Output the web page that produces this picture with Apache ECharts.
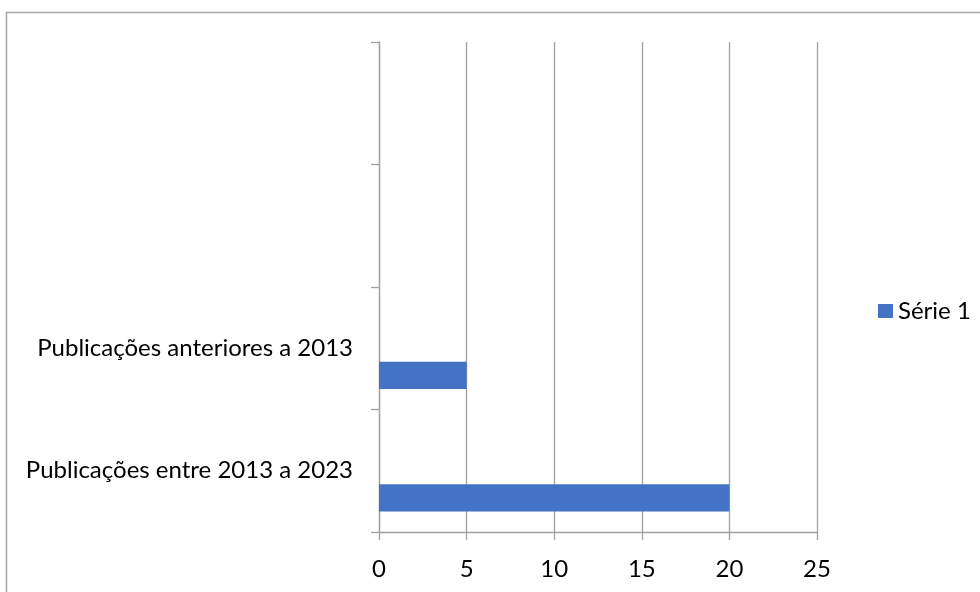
<!DOCTYPE html>
<html>
<head>
<meta charset="utf-8">
<style>
  html, body { margin: 0; padding: 0; background: #fff; }
  #chart { width: 980px; height: 592px; }
</style>
<script src="https://cdn.jsdelivr.net/npm/echarts@6/dist/echarts.min.js"></script>
</head>
<body>
<div id="chart"></div>
<script>
const categories = ["Publicações entre 2013 a 2023", "Publicações anteriores a 2013", "", ""];
const serie1 = [20, 5, null, null];
const serie2 = [null, null, null, null];
const serie3 = [null, null, null, null];
const xTicks = { min: 0, max: 25, interval: 5 };

const FONT = "Lato";
const FS = 24;
const chart = echarts.init(document.getElementById('chart'), null, { renderer: 'canvas' });
const axisGray = '#a0a0a0';

chart.setOption({
  animation: false,
  backgroundColor: '#ffffff',
  textStyle: { fontFamily: FONT },
  graphic: [{
    type: 'rect',
    shape: { x: 6.5, y: 12.5, width: 1000, height: 700 },
    style: { fill: 'none', stroke: '#a6a6a6', lineWidth: 1.5 },
    silent: true
  }],
  grid: { left: 379, right: 163, top: 42, bottom: 60, containLabel: false, outerBoundsMode: 'none' },
  legend: {
    data: ['Série 1'],
    left: 873,
    top: 294,
    icon: 'rect',
    itemWidth: 15,
    itemHeight: 14,
    textStyle: { fontFamily: FONT, fontSize: FS, color: '#000', lineHeight: 24 }
  },
  xAxis: {
    type: 'value',
    min: xTicks.min,
    max: xTicks.max,
    interval: xTicks.interval,
    axisLine: { show: true, lineStyle: { color: axisGray, width: 1.3 } },
    axisTick: { show: true, length: 8, lineStyle: { color: axisGray, width: 1.3 } },
    splitLine: { show: true, lineStyle: { color: axisGray, width: 1.3 } },
    axisLabel: { fontFamily: FONT, fontSize: FS, color: '#000', margin: 25 }
  },
  yAxis: {
    type: 'category',
    data: categories,
    axisLine: { show: true, lineStyle: { color: axisGray, width: 1.3 } },
    axisTick: { show: true, length: 8, lineStyle: { color: axisGray, width: 1.3 } },
    splitLine: { show: false },
    axisLabel: { fontFamily: FONT, fontSize: FS, color: '#000', margin: 26 }
  },
  series: [
    { name: 'Série 3', type: 'bar', data: serie3, barGap: '0%', barCategoryGap: '33.33%', itemStyle: { color: '#a5a5a5' } },
    { name: 'Série 2', type: 'bar', data: serie2, barGap: '0%', barCategoryGap: '33.33%', itemStyle: { color: '#ed7d31' } },
    { name: 'Série 1', type: 'bar', data: serie1, barGap: '0%', barCategoryGap: '33.33%', itemStyle: { color: '#4472C4' } }
  ]
});
</script>
</body>
</html>
